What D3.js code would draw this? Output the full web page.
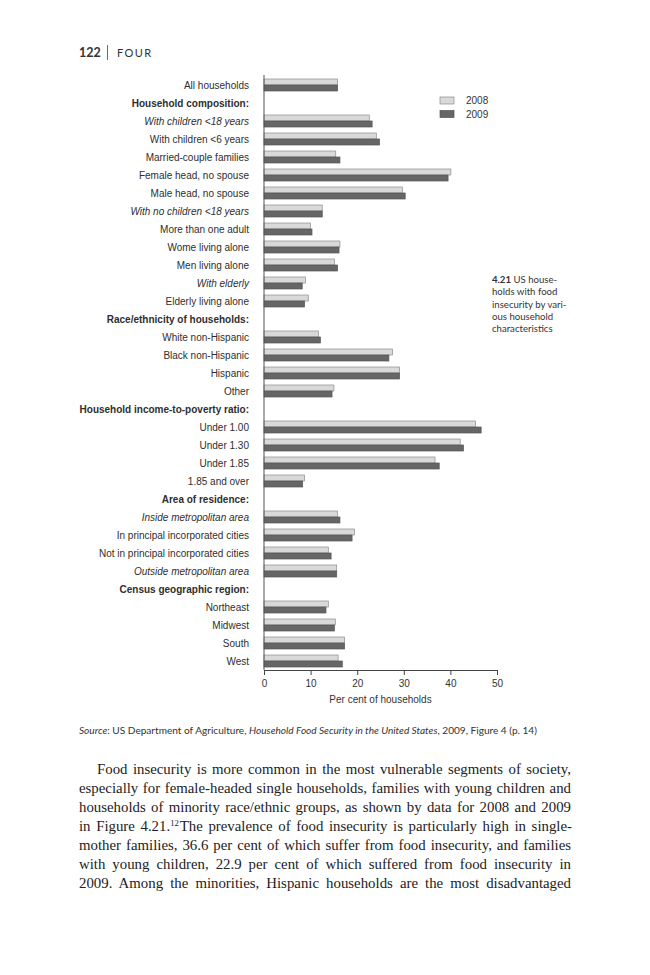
<!DOCTYPE html>
<html>
<head>
<meta charset="utf-8">
<script src="https://cdn.jsdelivr.net/npm/d3@7"></script>
<style>
  html, body { margin: 0; padding: 0; background: #fff; }
  svg { display: block; }
</style>
</head>
<body>
<svg id="page" width="650" height="975"></svg>
<script>
// ---------- DATA ----------
const categories = [
  "All households",
  "Household composition:",
  "With children <18 years",
  "With children <6 years",
  "Married-couple families",
  "Female head, no spouse",
  "Male head, no spouse",
  "With no children <18 years",
  "More than one adult",
  "Wome living alone",
  "Men living alone",
  "With elderly",
  "Elderly living alone",
  "Race/ethnicity of households:",
  "White non-Hispanic",
  "Black non-Hispanic",
  "Hispanic",
  "Other",
  "Household income-to-poverty ratio:",
  "Under 1.00",
  "Under 1.30",
  "Under 1.85",
  "1.85 and over",
  "Area of residence:",
  "Inside metropolitan area",
  "In principal incorporated cities",
  "Not in principal incorporated cities",
  "Outside metropolitan area",
  "Census geographic region:",
  "Northeast",
  "Midwest",
  "South",
  "West"
];
// label style: n = normal, b = bold heading, i = italic
const labelStyles = [
  "n","b","i","n","n","n","n","i","n","n","n","i","n",
  "b","n","n","n","n",
  "b","n","n","n","n",
  "b","i","n","n","i",
  "b","n","n","n","n"
];
const values2008 = [
  15.8, null, 22.6, 24.1, 15.4, 40.1, 29.7, 12.5, 10.0, 16.3, 15.1, 8.9, 9.5,
  null, 11.7, 27.6, 29.1, 15.0,
  null, 45.4, 42.1, 36.7, 8.7,
  null, 15.8, 19.4, 13.8, 15.6,
  null, 13.8, 15.3, 17.3, 15.9
];
const values2009 = [
  15.8, null, 23.2, 24.8, 16.3, 39.5, 30.3, 12.5, 10.3, 16.1, 15.8, 8.2, 8.7,
  null, 12.1, 26.8, 29.1, 14.6,
  null, 46.6, 42.8, 37.6, 8.3,
  null, 16.3, 18.9, 14.4, 15.6,
  null, 13.3, 15.1, 17.3, 16.8
];
const seriesNames = ["2008", "2009"];
const xTicks = [0, 10, 20, 30, 40, 50];
const xTitle = "Per cent of households";

const pageHeadNum = "122";
const pageHeadChapter = "FOUR";
const captionLines = [
  ["4.21", " US house-"],
  ["", "holds with food"],
  ["", "insecurity by vari-"],
  ["", "ous household"],
  ["", "characteristics"]
];
const bodyLines = [
  "Food insecurity is more common in the most vulnerable segments of society,",
  "especially for female-headed single households, families with young children and",
  "households of minority race/ethnic groups, as shown by data for 2008 and 2009",
  "in Figure 4.21.|12|The prevalence of food insecurity is particularly high in single-",
  "mother families, 36.6 per cent of which suffer from food insecurity, and families",
  "with young children, 22.9 per cent of which suffered from food insecurity in",
  "2009. Among the minorities, Hispanic households are the most disadvantaged"
];

// ---------- DRAW ----------
const svg = d3.select("#page");
const sans = "'Liberation Sans', Arial, sans-serif";
const bookSans = "Lato, 'Open Sans', sans-serif";
const serif = "'Liberation Serif', 'Times New Roman', serif";

const rows = categories.map((c, i) => ({
  label: c, style: labelStyles[i], v2008: values2008[i], v2009: values2009[i]
}));

const x = d3.scaleLinear().domain([0, 50]).range([264, 497]);
const y = d3.scaleBand().domain(categories).range([76, 670])
  .paddingInner(1/3).paddingOuter(1/6);
const ySub = d3.scaleBand().domain(seriesNames).range([0, y.bandwidth()]);
const fills = { "2008": "#d9d9d9", "2009": "#666666" };
const strokes = { "2008": "#8c8c8c", "2009": "#555555" };

// page header
const head = svg.append("g").attr("font-family", bookSans).attr("fill", "#333");
head.append("text").attr("x", 79).attr("y", 57).attr("font-size", 12.5)
  .attr("font-weight", 700).text(pageHeadNum);
head.append("line").attr("x1", 107.5).attr("x2", 107.5).attr("y1", 45).attr("y2", 60)
  .attr("stroke", "#444").attr("stroke-width", 0.8);
head.append("text").attr("x", 117).attr("y", 57).attr("font-size", 11)
  .attr("letter-spacing", 1.4).text(pageHeadChapter);

// bars
const barG = svg.append("g");
rows.forEach(r => {
  seriesNames.forEach(s => {
    const v = s === "2008" ? r.v2008 : r.v2009;
    if (v == null) return;
    barG.append("rect")
      .attr("x", x(0))
      .attr("y", y(r.label) + ySub(s))
      .attr("width", x(v) - x(0))
      .attr("height", ySub.bandwidth())
      .attr("fill", fills[s])
      .attr("stroke", strokes[s])
      .attr("stroke-width", 0.7);
  });
});

// category labels
svg.append("g").selectAll("text").data(rows).join("text")
  .attr("x", 249)
  .attr("y", d => y(d.label) + y.bandwidth() / 2)
  .attr("dy", "0.35em")
  .attr("text-anchor", "end")
  .attr("font-family", sans)
  .attr("font-size", 10)
  .attr("fill", "#2e2e2e")
  .attr("font-weight", d => d.style === "b" ? 700 : 400)
  .attr("font-style", d => d.style === "i" ? "italic" : "normal")
  .text(d => d.label);

// y axis line
svg.append("line").attr("x1", x(0)).attr("x2", x(0)).attr("y1", 75).attr("y2", 670)
  .attr("stroke", "#555").attr("stroke-width", 1);

// x axis
const xAxis = svg.append("g").attr("transform", "translate(0,670)")
  .call(d3.axisBottom(x).tickValues(xTicks).tickSize(5).tickSizeOuter(0).tickPadding(5));
xAxis.select(".domain").attr("stroke", "#444");
xAxis.selectAll(".tick line").attr("stroke", "#444");
xAxis.selectAll(".tick text").attr("font-family", sans).attr("font-size", 10).attr("fill", "#333");

svg.append("text").attr("x", (x(0) + x(50)) / 2).attr("y", 703)
  .attr("text-anchor", "middle").attr("font-family", sans).attr("font-size", 10)
  .attr("fill", "#333").text(xTitle);

// legend
const leg = svg.append("g");
seriesNames.forEach((s, i) => {
  leg.append("rect").attr("x", 440).attr("y", 97 + i * 13.5).attr("width", 14).attr("height", 7)
    .attr("fill", fills[s]).attr("stroke", strokes[s]).attr("stroke-width", 0.7);
  leg.append("text").attr("x", 466).attr("y", 100.5 + i * 13.5).attr("dy", "0.35em")
    .attr("font-family", sans).attr("font-size", 10).attr("fill", "#333").text(s);
});

// figure caption
const cap = svg.append("g").attr("font-family", bookSans).attr("font-size", 9.6).attr("fill", "#333");
captionLines.forEach((ln, i) => {
  const t = cap.append("text").attr("x", 492).attr("y", 283 + i * 12.3);
  if (ln[0]) t.append("tspan").attr("font-weight", 700).text(ln[0]);
  t.append("tspan").text(ln[1]);
});

// source line
const src = svg.append("text").attr("x", 79).attr("y", 734)
  .attr("font-family", bookSans).attr("font-size", 9).attr("fill", "#333");
src.append("tspan").attr("font-style", "italic").text("Source");
src.append("tspan").text(": US Department of Agriculture, ");
src.append("tspan").attr("font-style", "italic").text("Household Food Security in the United States");
src.append("tspan").text(", 2009, Figure 4 (p. 14)");
{
  const w = src.node().getComputedTextLength();
  const target = 537 - 79;
  src.attr("font-size", 9 * target / w);
}

// body text, justified; font size fitted so the longest line sets naturally
const body = svg.append("g").attr("font-family", serif).attr("font-size", 14.6).attr("fill", "#222");
const bodyTexts = bodyLines.map((ln, i) => {
  const left = i === 0 ? 97 : 79;
  const t = body.append("text").attr("x", left).attr("y", 774 + i * 19);
  const parts = ln.split("|");
  if (parts.length === 3) {
    t.append("tspan").text(parts[0]);
    t.append("tspan").attr("class", "sup").attr("dy", -5).text(parts[1]);
    t.append("tspan").attr("dx", 1).attr("dy", 5).text(parts[2]);
  } else {
    t.text(ln);
  }
  return { t, ln, left };
});
let ratio = Infinity;
bodyTexts.forEach(({ t, left }) => {
  ratio = Math.min(ratio, (571 - left) / t.node().getComputedTextLength());
});
const fs = 14.6 * ratio * 0.985;
body.attr("font-size", fs);
body.selectAll(".sup").attr("font-size", fs * 0.58);
bodyTexts.forEach(({ t, ln, left }) => {
  const natural = t.node().getComputedTextLength();
  const spaces = (ln.match(/ /g) || []).length;
  if (spaces > 0) t.attr("word-spacing", (571 - left - natural) / spaces);
});
</script>
</body>
</html>
